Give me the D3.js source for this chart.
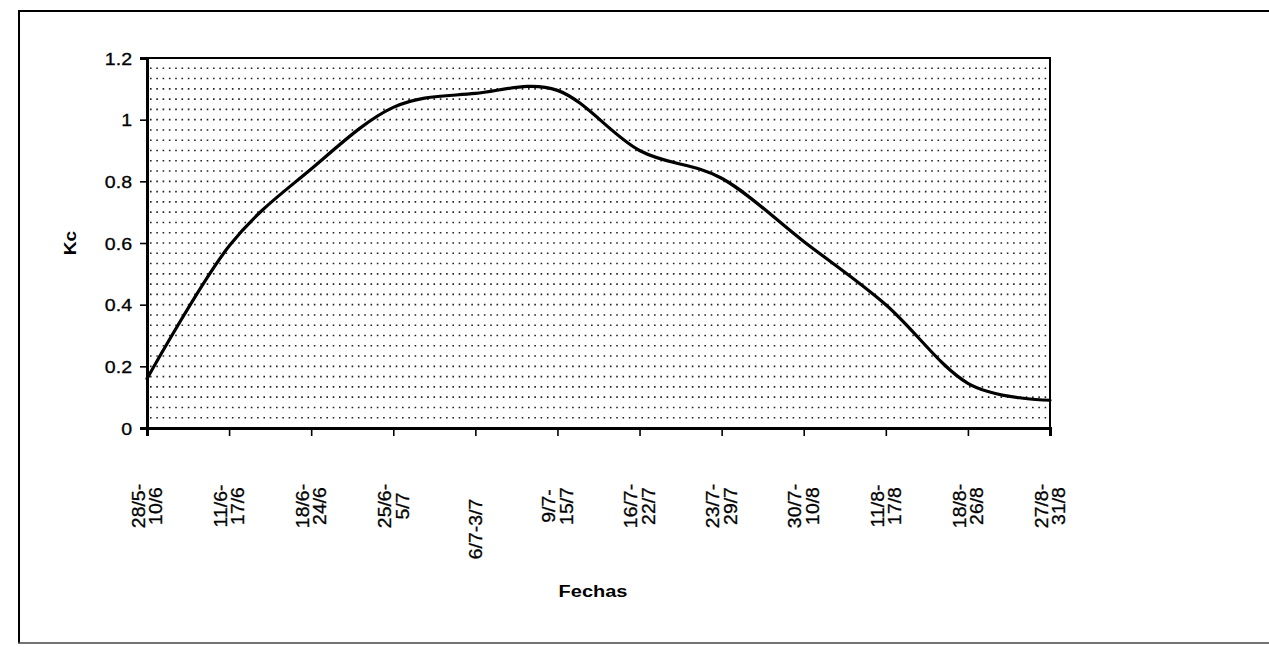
<!DOCTYPE html>
<html>
<head>
<meta charset="utf-8">
<script src="https://cdn.jsdelivr.net/npm/d3@7/dist/d3.min.js"></script>
<style>
  html, body { margin: 0; padding: 0; background: #fff; }
  svg { display: block; }
  text { font-family: "Liberation Sans", Arial, sans-serif; fill: #000; }
</style>
</head>
<body>
<svg id="chart" width="1269" height="647"></svg>
<script>
// ---- data ----
const categories = ["28/5-10/6","11/6-17/6","18/6-24/6","25/6-5/7","6/7-3/7","9/7-15/7",
                    "16/7-22/7","23/7-29/7","30/7-10/8","11/8-17/8","18/8-26/8","27/8-31/8"];
const categoryLines = [["28/5-","10/6"],["11/6-","17/6"],["18/6-","24/6"],["25/6-","5/7"],["6/7-3/7"],["9/7-","15/7"],
                       ["16/7-","22/7"],["23/7-","29/7"],["30/7-","10/8"],["11/8-","17/8"],["18/8-","26/8"],["27/8-","31/8"]];
const kcValues = [0.16, 0.59, 0.84, 1.04, 1.085, 1.095, 0.90, 0.81, 0.605, 0.40, 0.145, 0.09];
const yTickValues = [0, 0.2, 0.4, 0.6, 0.8, 1.0, 1.2];
const yTickLabels = ["0", "0.2", "0.4", "0.6", "0.8", "1", "1.2"];
const yTitle = "Kc";
const xTitle = "Fechas";

// ---- layout ----
const plot = { left: 147, right: 1050, top: 58, bottom: 428 };
const svg = d3.select("#chart");

const x = d3.scalePoint().domain(d3.range(categories.length)).range([plot.left, plot.right]);
const y = d3.scaleLinear().domain([0, 1.2]).range([plot.bottom, plot.top]);

// outer frame (scanned page border)
svg.append("line").attr("x1", 19).attr("x2", 1269).attr("y1", 11).attr("y2", 11)
  .attr("stroke", "#000").attr("stroke-width", 2);
svg.append("line").attr("x1", 19).attr("x2", 19).attr("y1", 10).attr("y2", 643)
  .attr("stroke", "#000").attr("stroke-width", 2);
svg.append("line").attr("x1", 18).attr("x2", 1269).attr("y1", 643).attr("y2", 643)
  .attr("stroke", "#444").attr("stroke-width", 1.5);

// dotted pattern grid inside plot area
const gridVals = d3.range(1, 36).map(i => i * 0.2 / 6);
svg.append("g").selectAll("line").data(gridVals).join("line")
  .attr("x1", plot.left + 3).attr("x2", plot.right - 2)
  .attr("y1", d => y(d)).attr("y2", d => y(d))
  .attr("stroke", "#222").attr("stroke-width", 1.6)
  .attr("stroke-dasharray", "1.6,4.7");

// plot border
svg.append("rect").attr("x", plot.left).attr("y", plot.top)
  .attr("width", plot.right - plot.left).attr("height", plot.bottom - plot.top)
  .attr("fill", "none").attr("stroke", "#000").attr("stroke-width", 2);

// y axis
const yAxis = svg.append("g").attr("transform", `translate(${plot.left},0)`)
  .call(d3.axisLeft(y).tickValues(yTickValues).tickSize(7).tickPadding(8)
    .tickFormat((d, i) => yTickLabels[i]));
yAxis.select(".domain").attr("stroke-width", 3);
yAxis.selectAll(".tick line").attr("stroke-width", 1.6);
yAxis.selectAll(".tick text")
  .style("font-family", '"Liberation Sans", Arial, sans-serif')
  .attr("font-size", 17).attr("text-anchor", "end")
  .attr("stroke", "#000").attr("stroke-width", 0.3)
  .each(function(){
    const t = d3.select(this);
    const tx = +t.attr("x");
    t.attr("x", null).attr("dy", "0.36em")
     .attr("transform", `translate(${tx},0) scale(1.15,1)`);
  });

// x axis
const xAxis = svg.append("g").attr("transform", `translate(0,${plot.bottom})`)
  .call(d3.axisBottom(x).tickSize(8).tickFormat(""));
xAxis.select(".domain").attr("stroke-width", 3);
xAxis.selectAll(".tick line").attr("stroke-width", 1.6);

// rotated multi-line category labels
const pitch = 17.5;
const lbl = svg.append("g");
categories.forEach((c, i) => {
  const lines = categoryLines[i];
  const cy = lines.length === 1 ? 529 : 506;
  const g = lbl.append("g").attr("transform", `translate(${x(i)},${cy}) rotate(-90) scale(1.08,1)`);
  lines.forEach((ln, j) => {
    g.append("text").attr("x", 0).attr("y", (j - (lines.length - 1) / 2) * pitch)
      .attr("dy", "0.36em").attr("text-anchor", "middle").attr("font-size", 18)
      .attr("stroke", "#000").attr("stroke-width", 0.3).text(ln);
  });
});

// series line (smoothed)
const line = d3.line().x((d, i) => x(i)).y(d => y(d)).curve(d3.curveCardinal.tension(0));
svg.append("path").datum(kcValues).attr("d", line)
  .attr("fill", "none").attr("stroke", "#000").attr("stroke-width", 3.2)
  .attr("stroke-linejoin", "round").attr("stroke-linecap", "round");

// axis titles
svg.append("text").attr("transform", "translate(76,243) rotate(-90) scale(1.2,1)")
  .attr("text-anchor", "middle").attr("font-size", 16).attr("font-weight", "bold").text(yTitle);
svg.append("text").attr("transform", "translate(593,597) scale(1.25,1)")
  .attr("text-anchor", "middle").attr("font-size", 16).attr("font-weight", "bold").text(xTitle);
</script>
</body>
</html>
